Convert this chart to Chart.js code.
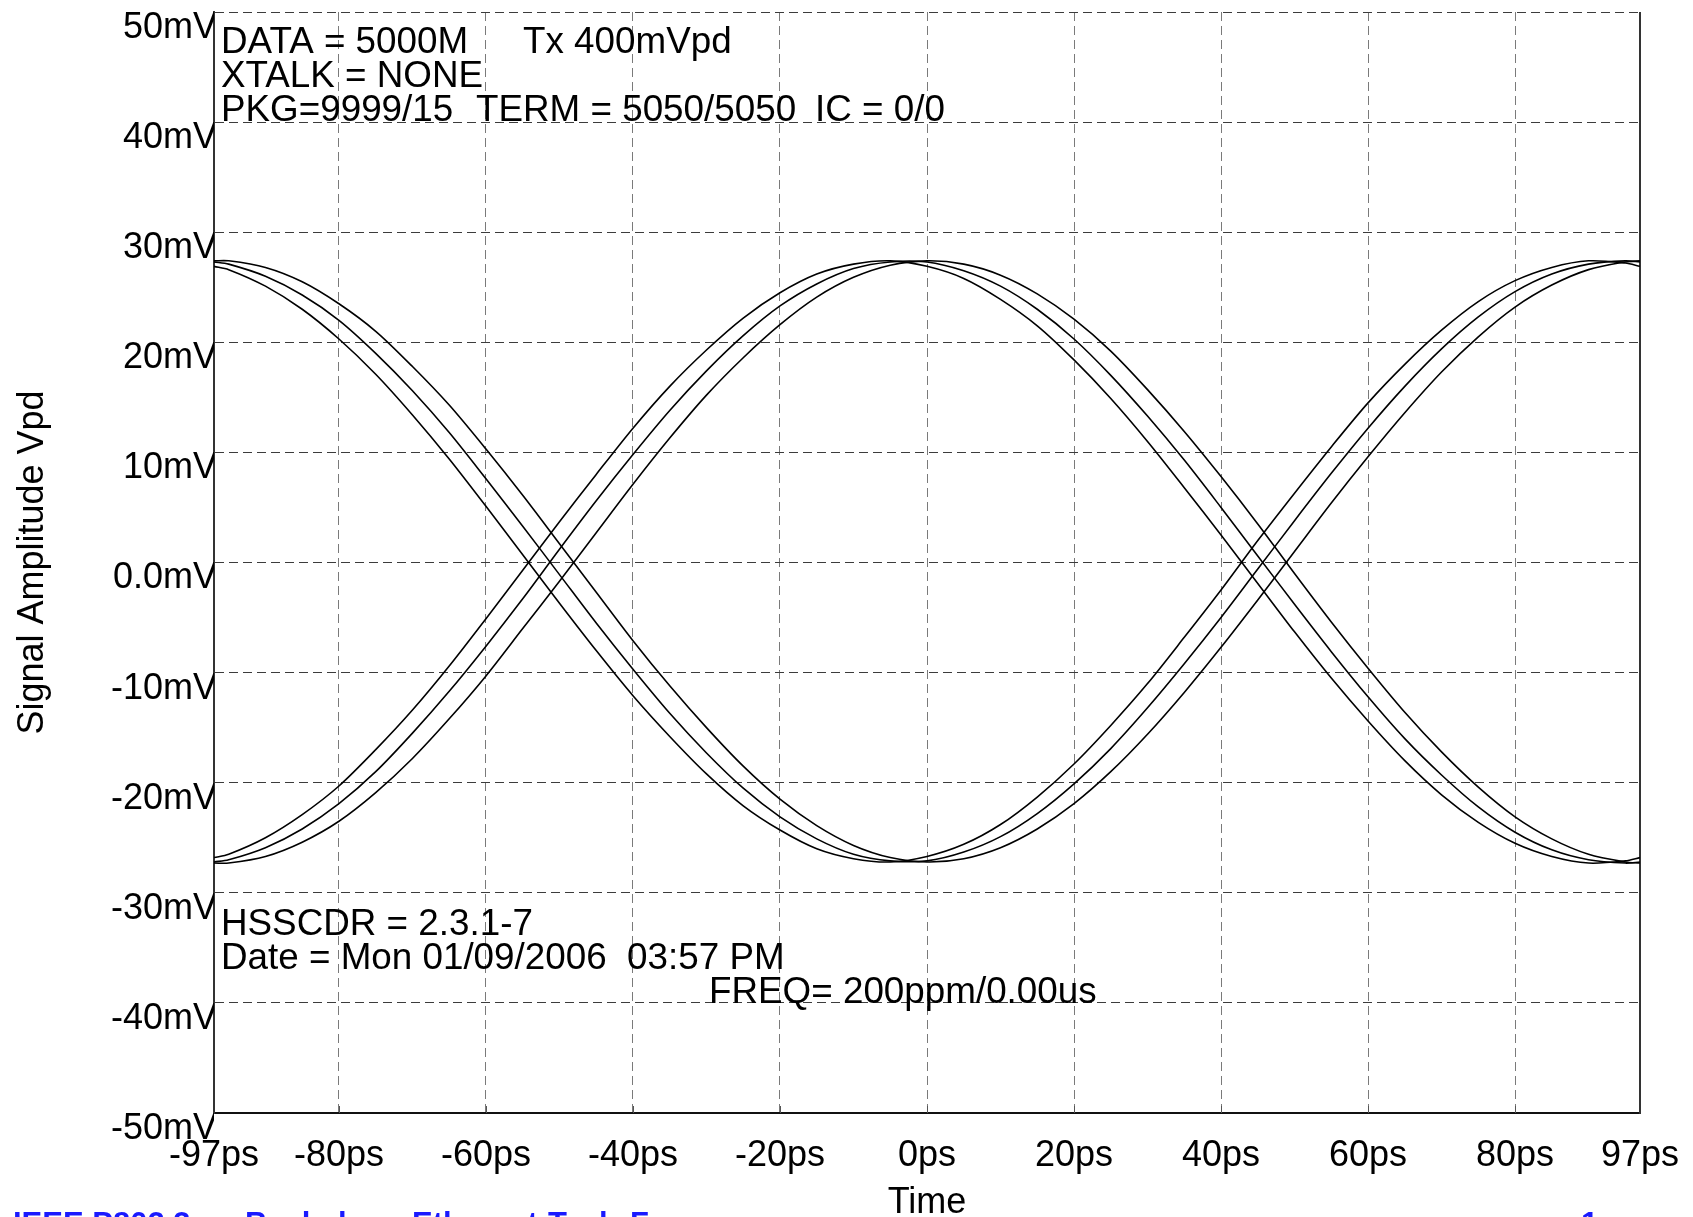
<!DOCTYPE html>
<html>
<head>
<meta charset="utf-8">
<title>Eye diagram - HSSCDR</title>
<script src="https://cdn.jsdelivr.net/npm/chart.js@4.4.1/dist/chart.umd.min.js"></script>
<style>
  html, body { margin: 0; padding: 0; background: #fff; }
  #wrap { width: 1693px; height: 1217px; overflow: hidden; }
</style>
</head>
<body>
<div id="wrap"><canvas id="eye" width="1693" height="1217"></canvas></div>
<script>
// Sample times (ps) shared by every trace
const timePs = [-97, -95, -90, -85, -80, -75, -70, -65, -60, -55, -50, -45, -40, -35, -30, -25, -20, -15, -10, -5,
  0, 5, 10, 15, 20, 25, 30, 35, 40, 45, 50, 55, 60, 65, 70, 75, 80, 85, 90, 95, 97];

// Axis ticks
const xTickValues = [-97, -80, -60, -40, -20, 0, 20, 40, 60, 80, 97];
const xTickLabels = ['-97ps', '-80ps', '-60ps', '-40ps', '-20ps', '0ps', '20ps', '40ps', '60ps', '80ps', '97ps'];
const yTickValues = [50, 40, 30, 20, 10, 0, -10, -20, -30, -40, -50];
const yTickLabels = ['50mV', '40mV', '30mV', '20mV', '10mV', '0.0mV', '-10mV', '-20mV', '-30mV', '-40mV', '-50mV'];

// Traces starting high (mV), zero crossings around -54 / -51 / -48 ps
const highEarly = [26.9, 26.6, 25.1, 23.0, 20.3, 17.1, 13.4, 9.4, 5.1, 0.7, -3.7, -8.0, -12.1, -15.8, -19.2, -22.1, -24.3, -26.0, -26.9, -27.2,
  -26.7, -25.6, -23.8, -21.3, -18.3, -14.8, -11.0, -6.8, -2.5, 2.0, 6.3, 10.5, 14.5, 18.0, 21.1, 23.7, 25.6, 26.8, 27.4, 27.2, 26.9];
const highMid = [27.3, 27.1, 26.0, 24.3, 22.0, 19.0, 15.6, 11.8, 7.6, 3.3, -1.1, -5.5, -9.7, -13.7, -17.3, -20.5, -23.1, -25.1, -26.5, -27.1,
  -27.1, -26.3, -24.9, -22.8, -20.1, -16.9, -13.2, -9.2, -5.0, -0.6, 3.8, 8.1, 12.2, 16.0, 19.4, 22.3, 24.6, 26.2, 27.1, 27.4, 27.3];
const highLate = [27.4, 27.4, 26.8, 25.5, 23.5, 21.0, 17.8, 14.3, 10.3, 6.1, 1.7, -2.7, -7.1, -11.2, -15.0, -18.5, -21.5, -23.9, -25.7, -26.8,
  -27.2, -26.9, -25.9, -24.2, -21.9, -19.0, -15.6, -11.8, -7.7, -3.4, 1.0, 5.4, 9.6, 13.6, 17.3, 20.5, 23.2, 25.2, 26.6, 27.3, 27.4];

// Traces starting low (mV)
const lowEarly = [-26.8, -26.5, -25.0, -22.9, -20.3, -17.0, -13.4, -9.4, -5.1, -0.7, 3.7, 8.0, 12.2, 16.0, 19.3, 22.2, 24.5, 26.2, 27.1, 27.4,
  26.9, 25.8, 23.9, 21.5, 18.4, 14.9, 11.0, 6.8, 2.5, -1.9, -6.3, -10.5, -14.4, -18.0, -21.1, -23.6, -25.5, -26.7, -27.3, -27.1, -26.8];
const lowMid = [-27.2, -27.0, -25.9, -24.2, -21.9, -19.0, -15.5, -11.7, -7.6, -3.3, 1.2, 5.6, 9.8, 13.8, 17.4, 20.6, 23.3, 25.3, 26.7, 27.3,
  27.3, 26.5, 25.1, 23.0, 20.3, 17.0, 13.3, 9.3, 5.0, 0.6, -3.8, -8.1, -12.2, -16.0, -19.3, -22.2, -24.5, -26.1, -27.0, -27.3, -27.2];
const lowLate = [-27.3, -27.3, -26.7, -25.4, -23.5, -20.9, -17.8, -14.2, -10.3, -6.0, -1.7, 2.7, 7.1, 11.3, 15.2, 18.6, 21.6, 24.1, 25.9, 27.0,
  27.4, 27.1, 26.1, 24.4, 22.1, 19.2, 15.7, 11.9, 7.8, 3.5, -1.0, -5.4, -9.6, -13.6, -17.2, -20.4, -23.1, -25.1, -26.5, -27.2, -27.3];

const FONT = '"Liberation Sans", Arial, Helvetica, sans-serif';

/**
 * Right border and small inward ticks on the time axis
 */
const framePlugin = {
    id: 'frame',
    beforeDatasetsDraw(chart) {
        const { ctx, chartArea: area, scales: { x } } = chart;
        ctx.save();
        ctx.strokeStyle = '#333';
        ctx.lineWidth = 2;
        ctx.beginPath();
        ctx.moveTo(area.right, area.top);
        ctx.lineTo(area.right, area.bottom + 1);
        ctx.stroke();

        ctx.strokeStyle = '#555';
        ctx.lineWidth = 1;
        xTickValues.slice(1, -1).forEach(v => {
            const px = Math.round(x.getPixelForValue(v)) + 0.5;
            ctx.beginPath();
            ctx.moveTo(px, area.bottom);
            ctx.lineTo(px, area.bottom - 7);
            ctx.stroke();
        });
        ctx.restore();
    }
};

/**
 * Simulator annotations written over the plot
 */
const notesPlugin = {
    id: 'notes',
    afterDraw(chart) {
        const ctx = chart.ctx;
        const notes = [
            ['DATA = 5000M', 221, 53],
            ['Tx 400mVpd', 523, 53],
            ['XTALK = NONE', 221, 87],
            ['PKG=9999/15', 221, 121],
            ['TERM = 5050/5050', 476, 121],
            ['IC = 0/0', 815, 121],
            ['HSSCDR = 2.3.1-7', 221, 935],
            ['Date = Mon 01/09/2006  03:57 PM', 221, 969],
            ['FREQ= 200ppm/0.00us', 709, 1003]
        ];
        ctx.save();
        ctx.fillStyle = '#000';
        ctx.font = '36.8px ' + FONT;
        ctx.textAlign = 'left';
        ctx.textBaseline = 'alphabetic';
        notes.forEach(([text, x, y]) => ctx.fillText(text, x, y));

        // footer, cut off by the bottom edge
        const footer = [
            ['IEEE P802.3ap', 13],
            ['Backplane', 245],
            ['Ethernet', 412],
            ['Task', 548],
            ['Force', 630],
            ['1', 1581]
        ];
        ctx.fillStyle = '#1a1aff';
        ctx.font = 'bold 31px ' + FONT;
        footer.forEach(([text, x]) => ctx.fillText(text, x, 1234));
        ctx.restore();
    }
};

const toPoints = values => values.map((v, i) => ({ x: timePs[i], y: v }));
const traces = [highEarly, highMid, highLate, lowEarly, lowMid, lowLate];

const ctx = document.getElementById('eye').getContext('2d');

new Chart(ctx, {
    type: 'line',
    data: {
        datasets: traces.map((values, i) => ({
            label: 'trace ' + (i + 1),
            data: toPoints(values),
            borderColor: '#000',
            borderWidth: 1.6,
            pointRadius: 0,
            fill: false,
            tension: 0.3
        }))
    },
    options: {
        responsive: false,
        animation: false,
        devicePixelRatio: 1,
        layout: {
            padding: { left: 0, right: 53, top: 12, bottom: 0 }
        },
        plugins: {
            legend: { display: false },
            tooltip: { enabled: false }
        },
        scales: {
            x: {
                type: 'linear',
                min: -97,
                max: 97,
                afterBuildTicks: scale => {
                    scale.ticks = xTickValues.map(v => ({ value: v }));
                },
                afterFit: scale => {
                    scale.height = 104;
                    scale.paddingLeft = 0;
                    scale.paddingRight = 0;
                },
                ticks: {
                    autoSkip: false,
                    maxRotation: 0,
                    padding: 21,
                    color: '#000',
                    font: { family: FONT, size: 36, lineHeight: 1.2 },
                    callback: value => xTickLabels[xTickValues.indexOf(value)]
                },
                grid: {
                    drawTicks: false,
                    lineWidth: 1,
                    color: c => (c.tick && Math.abs(c.tick.value) === 97) ? 'rgba(0,0,0,0)' : '#7a7a7a'
                },
                border: { display: true, color: '#111', width: 2, dash: [9, 5] },
                title: {
                    display: true,
                    text: 'Time',
                    color: '#000',
                    font: { family: FONT, size: 36, lineHeight: 0.8 },
                    padding: 0
                }
            },
            y: {
                type: 'linear',
                min: -50,
                max: 50,
                afterBuildTicks: scale => {
                    scale.ticks = yTickValues.slice().reverse().map(v => ({ value: v }));
                },
                afterFit: scale => {
                    scale.width = 214;
                    scale.paddingTop = 0;
                    scale.paddingBottom = 0;
                },
                ticks: {
                    autoSkip: false,
                    padding: -3,
                    labelOffset: 16,
                    color: '#000',
                    font: { family: FONT, size: 36, lineHeight: 1.2 },
                    callback: value => yTickLabels[yTickValues.indexOf(value)]
                },
                grid: {
                    drawTicks: false,
                    lineWidth: 1,
                    color: c => (c.tick && c.tick.value === -50) ? 'rgba(0,0,0,0)' : '#3c3c3c'
                },
                border: { display: true, color: '#333', width: 2, dash: [9, 5] },
                title: {
                    display: true,
                    text: 'Signal Amplitude Vpd',
                    color: '#000',
                    font: { family: FONT, size: 36, lineHeight: 1.2 },
                    padding: { top: 11, bottom: 0 }
                }
            }
        }
    },
    plugins: [framePlugin, notesPlugin]
});
</script>
</body>
</html>
